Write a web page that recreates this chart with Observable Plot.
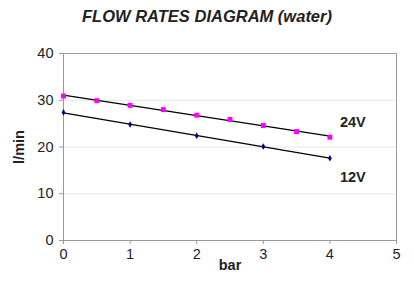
<!DOCTYPE html>
<html><head><meta charset="utf-8">
<script src="https://cdn.jsdelivr.net/npm/d3@7"></script>
<script src="https://cdn.jsdelivr.net/npm/@observablehq/plot@0.6"></script>
<style>
body{margin:0;background:#fff;font-family:"Liberation Sans",Arial,sans-serif;}
#title{height:32px;line-height:32px;text-align:center;font-weight:bold;font-style:italic;font-size:16.5px;color:#222;padding-left:0px;}
#chart{position:relative;}
</style></head><body>
<div id="title">FLOW RATES DIAGRAM (water)</div>
<div id="chart"></div>
<script>
const pressure24 = [0, 0.5, 1, 1.5, 2, 2.5, 3, 3.5, 4];
const flow24 = [30.9, 29.9, 28.9, 28.0, 26.8, 25.9, 24.6, 23.3, 22.1];
const pressure12 = [0, 1, 2, 3, 4];
const flow12 = [27.4, 24.8, 22.4, 20.1, 17.6];
const seriesLabels = ["24V", "12V"];
const labelPos = [{x: 4.15, y: 25.2}, {x: 4.15, y: 13.5}];
const yTicks = [0, 10, 20, 30, 40];
const xTicks = [0, 1, 2, 3, 4, 5];

const d24 = pressure24.map((p, i) => ({p, f: flow24[i]}));
const d12 = pressure12.map((p, i) => ({p, f: flow12[i]}));
const labels = seriesLabels.map((t, i) => ({t, x: labelPos[i].x, y: labelPos[i].y}));

const chart = Plot.plot({
  width: 414, height: 263,
  marginLeft: 63, marginRight: 18, marginTop: 21, marginBottom: 55,
  style: {fontFamily: '"Liberation Sans", Arial, sans-serif', fontSize: "14.5px", color: "#222"},
  x: {domain: [0, 5], ticks: xTicks, tickFormat: "d", tickSize: 4, tickPadding: 4, label: "bar", labelAnchor: "center", labelArrow: "none", labelOffset: 29},
  y: {domain: [0, 40], ticks: yTicks, tickFormat: "d", tickSize: 4, tickPadding: 6, label: "l/min", labelAnchor: "center", labelArrow: "none", labelOffset: 50},
  marks: [
    Plot.gridY(yTicks.filter(v => v > 0 && v < 40), {stroke: "#e6e6e6", strokeOpacity: 1}),
    Plot.frame({stroke: "#999"}),
    Plot.linearRegressionY(d24, {x: "p", y: "f", stroke: "black", strokeWidth: 1.3, ci: 0}),
    Plot.linearRegressionY(d12, {x: "p", y: "f", stroke: "black", strokeWidth: 1.3, ci: 0}),
    Plot.dot(d24, {x: "p", y: "f", symbol: "square", r: 2.8, fill: "#ff00ff", stroke: "none"}),
    Plot.dot(d12, {x: "p", y: "f", symbol: "diamond", r: 2, fill: "#000080", stroke: "none"}),
    Plot.text(labels, {x: "x", y: "y", text: "t", textAnchor: "start", fontWeight: "bold", fontSize: 14.5, fill: "#222"})
  ]
});
chart.querySelectorAll('[aria-label="x-axis label"] text, [aria-label="y-axis label"] text').forEach(t => {t.setAttribute("font-weight", "bold"); t.style.fontWeight = "bold";});
chart.querySelectorAll('[aria-label="x-axis tick"], [aria-label="y-axis tick"]').forEach(g => g.setAttribute("stroke", "#999"));
document.getElementById("chart").appendChild(chart);
</script>
</body></html>
